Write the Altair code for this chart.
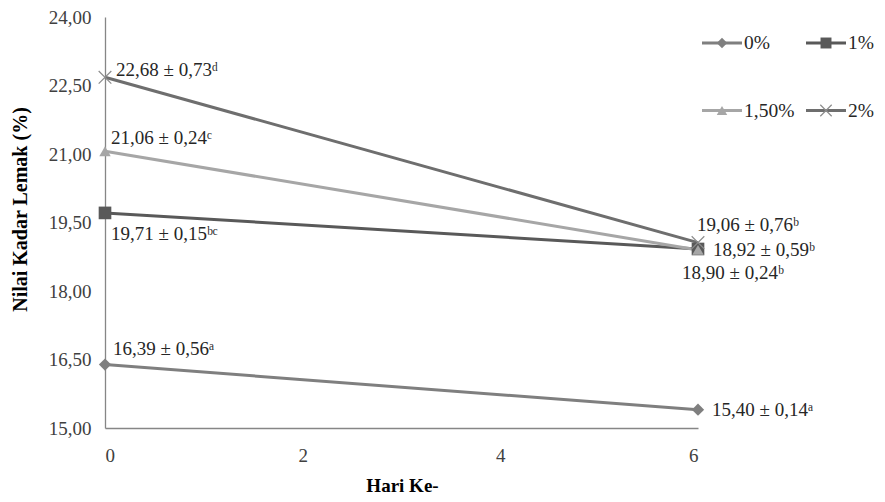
import altair as alt
import pandas as pd

# ---- data ----
days = [0, 6]
series = ["0%", "1%", "1,50%", "2%"]
val_0 = [16.39, 15.40]
val_1 = [19.71, 18.92]
val_15 = [21.06, 18.90]
val_2 = [22.68, 19.06]
lab_0 = ["16,39 ± 0,56ᵃ", "15,40 ± 0,14ᵃ"]
lab_1 = ["19,71 ± 0,15ᵇᶜ", "18,92 ± 0,59ᵇ"]
lab_15 = ["21,06 ± 0,24ᶜ", "18,90 ± 0,24ᵇ"]
lab_2 = ["22,68 ± 0,73ᵈ", "19,06 ± 0,76ᵇ"]
y_ticks = [15, 16.5, 18, 19.5, 21, 22.5, 24]
x_ticks = [0, 2, 4, 6]

colors = ["#7f7f7f", "#595959", "#a6a6a6", "#6e6e6e"]
SERIF = "Liberation Serif"
FS = 19

rows = []
for s, vals, labs in zip(series, [val_0, val_1, val_15, val_2], [lab_0, lab_1, lab_15, lab_2]):
    for d, v, l in zip(days, vals, labs):
        rows.append({"series": s, "day": d, "value": v, "label": l})
df = pd.DataFrame(rows)

common_axis = dict(ticks=False, grid=False, domainColor="#868686", domainWidth=1.3,
                   labelFont=SERIF, labelFontSize=FS, labelColor="#404040",
                   titleFont=SERIF, titleFontWeight="bold", titleColor="#000000")

x_enc = alt.X("day:Q", scale=alt.Scale(domain=[0, 6], nice=False),
              axis=alt.Axis(values=x_ticks, title="Hari Ke-", format="d",
                            labelPadding=27, labelBaseline="middle", titleFontSize=FS,
                            titleX=297, titleY=57, titleBaseline="middle", **common_axis))
y_enc = alt.Y("value:Q", scale=alt.Scale(domain=[15, 24], nice=False, zero=False),
              axis=alt.Axis(values=y_ticks, title="Nilai Kadar Lemak (%)",
                            labelPadding=14, titleFontSize=20,
                            labelExpr="replace(format(datum.value, '.2f'), '.', ',')",
                            titleX=-85, titleY=192, titleBaseline="middle", **common_axis))
color_enc = alt.Color("series:N", scale=alt.Scale(domain=series, range=colors), legend=None)

base = alt.Chart(df)

lines = base.mark_line(strokeWidth=3).encode(x=x_enc, y=y_enc, color=color_enc, detail="series:N")

layers = [lines]
shapes = {"0%": ("diamond", 150), "1%": ("square", 160), "1,50%": ("triangle-up", 130)}
for i, s in enumerate(series[:3]):
    shp, size = shapes[s]
    layers.append(
        base.transform_filter(alt.datum.series == s)
        .mark_point(filled=True, shape=shp, size=size, color=colors[i], opacity=1)
        .encode(x="day:Q", y="value:Q")
    )
XPATH = "M-1,-1L1,1M-1,1L1,-1"
layers.append(
    base.transform_filter(alt.datum.series == "2%")
    .mark_point(filled=False, shape=XPATH, size=160, color="#8c8c8c", strokeWidth=1.2, opacity=1)
    .encode(x="day:Q", y="value:Q")
)

# value labels, offsets chosen per label
offsets = {
    ("0%", 0): (8, -16), ("0%", 6): (14, 0),
    ("1%", 0): (6, 21), ("1%", 6): (15, 1),
    ("1,50%", 0): (6, -13), ("1,50%", 6): (-16, 23),
    ("2%", 0): (11, -7), ("2%", 6): (-1, -18),
}
for (s, d), (dx, dy) in offsets.items():
    layers.append(
        base.transform_filter((alt.datum.series == s) & (alt.datum.day == d))
        .mark_text(align="left", baseline="middle", dx=dx, dy=dy, font=SERIF,
                   fontSize=FS, color="#262626")
        .encode(x="day:Q", y="value:Q", text="label:N")
    )

# legend (drawn manually: line with marker + label)
leg_shapes = ["diamond", "square", "triangle-up", XPATH]
leg_sizes = [110, 120, 110, 130]
for i, s in enumerate(series):
    col, row = i % 2, i // 2
    x0 = 597 + col * 104
    yy = 26 + row * 67.5
    ldf = pd.DataFrame({"series": [s]})
    lb = alt.Chart(ldf)
    layers.append(lb.mark_rule(strokeWidth=3, color=colors[i]).encode(
        x=alt.value(x0), x2=alt.value(x0 + 40), y=alt.value(yy)))
    if i < 3:
        layers.append(lb.mark_point(filled=True, shape=leg_shapes[i], size=leg_sizes[i],
                                    color=colors[i], opacity=1).encode(
            x=alt.value(x0 + 20), y=alt.value(yy)))
    else:
        layers.append(lb.mark_point(filled=False, shape=XPATH, size=leg_sizes[i],
                                    color="#8c8c8c", strokeWidth=1.2, opacity=1).encode(
            x=alt.value(x0 + 20), y=alt.value(yy)))
    layers.append(lb.mark_text(align="left", baseline="middle", font=SERIF, fontSize=19.5,
                               color="#262626").encode(
        x=alt.value(x0 + 42), y=alt.value(yy), text="series:N"))

chart = alt.layer(*layers).properties(
    width=593, height=411,
    autosize=alt.AutoSizeParams(type="none"),
    padding={"left": 97, "top": 9, "right": 179, "bottom": 66},
).configure(font=SERIF).configure_view(stroke=None)

chart.save("out.html", embed_options={"renderer": "svg", "actions": False})
